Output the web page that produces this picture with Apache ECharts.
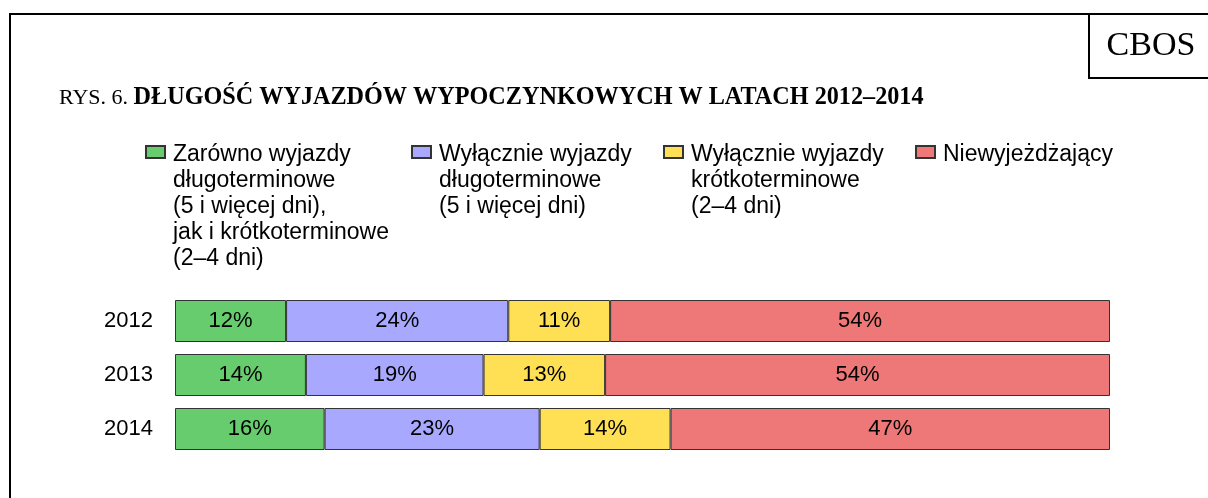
<!DOCTYPE html>
<html><head><meta charset="utf-8">
<script src="https://cdn.jsdelivr.net/npm/echarts@6/dist/echarts.min.js"></script>
<style>html,body{margin:0;padding:0;background:#fff}#c{width:1208px;height:498px}</style>
</head><body><div id="c"></div>
<script>
// ---- data ----
const years = ['2012', '2013', '2014'];
const seriesNames = [
  'Zarówno wyjazdy\ndługoterminowe\n(5 i więcej dni),\njak i krótkoterminowe\n(2–4 dni)',
  'Wyłącznie wyjazdy\ndługoterminowe\n(5 i więcej dni)',
  'Wyłącznie wyjazdy\nkrótkoterminowe\n(2–4 dni)',
  'Niewyjeżdżający'
];
const bothTrips = [12, 14, 16];
const longOnly = [24, 19, 23];
const shortOnly = [11, 13, 14];
const noTrips = [54, 54, 47];
const titlePrefix = 'RYS. 6. ';
const titleMain = 'DŁUGOŚĆ WYJAZDÓW WYPOCZYNKOWYCH W LATACH 2012–2014';
const sourceLabel = 'CBOS';

// ---- styles ----
const colors = ['#66CC6E', '#A8A8FF', '#FFE055', '#EE7777'];
const sans = "'Liberation Sans', Arial, sans-serif";
const serif = "'Liberation Serif', 'Times New Roman', serif";

const raw = [bothTrips, longOnly, shortOnly, noTrips];
const totals = years.map((y, j) => raw.reduce((s, arr) => s + arr[j], 0));

const iconLeft = [145, 411, 663, 915];
const iconTop = 146;
const LH = 26, IH = 12, SHIFT = 6;

const legends = seriesNames.map((n, i) => {
  const N = n.split('\n').length;
  return {
    data: [n], left: iconLeft[i], top: iconTop + IH / 2 - ((2 * N - 1) * LH + SHIFT) / 2,
    padding: 0, itemWidth: 19, itemHeight: IH, icon: 'rect', selectedMode: false,
    formatter: name => '{s| }\n' + '\n'.repeat(N - 1) + name.split('\n').map(s => '{t|' + s + '}').join('\n'),
    textStyle: {
      fontSize: 23, lineHeight: LH, fontFamily: sans, color: '#000',
      rich: {
        t: {fontSize: 23, lineHeight: LH, fontFamily: sans, color: '#000', padding: [0, 0, 0, 3]},
        s: {fontSize: 1, lineHeight: SHIFT}
      }
    }
  };
});

const chart = echarts.init(document.getElementById('c'), null, {renderer: 'canvas'});
chart.setOption({
  animation: false,
  backgroundColor: '#fff',
  title: {
    text: '{a|' + titlePrefix + '}{b|' + titleMain + '}',
    left: 59, top: 86, padding: 0,
    textStyle: {
      rich: {
        a: {fontFamily: serif, fontSize: 22, fontWeight: 'normal', color: '#000'},
        b: {fontFamily: serif, fontSize: 24.2, fontWeight: 'bold', color: '#000'}
      }
    }
  },
  legend: legends,
  grid: {left: 175, right: 98, top: 294, height: 162, containLabel: false},
  xAxis: {type: 'value', min: 0, max: 100, show: false},
  yAxis: {
    type: 'category', data: years, inverse: true,
    axisLine: {show: false}, axisTick: {show: false}, splitLine: {show: false},
    axisLabel: {fontSize: 22, color: '#000', fontFamily: sans, margin: 22}
  },
  series: seriesNames.map((n, i) => ({
    name: n, type: 'bar', stack: 'total', barWidth: 42,
    itemStyle: {color: colors[i], borderColor: '#333', borderWidth: 1},
    label: {
      show: true, position: 'inside', fontSize: 22, color: '#000', fontFamily: sans,
      formatter: p => p.data.raw + '%'
    },
    data: years.map((y, j) => ({value: raw[i][j] / totals[j] * 100, raw: raw[i][j]}))
  })),
  graphic: [
    {type: 'rect', shape: {x: 10, y: 14, width: 1400, height: 700}, style: {fill: 'none', stroke: '#000', lineWidth: 2}, silent: true},
    {type: 'rect', shape: {x: 1089, y: 14, width: 300, height: 64}, style: {fill: 'none', stroke: '#000', lineWidth: 2}, silent: true},
    {type: 'text', x: 1151, y: 46, style: {text: sourceLabel, font: '34px ' + serif, fill: '#000', align: 'center', verticalAlign: 'middle'}, silent: true}
  ]
});
</script></body></html>
